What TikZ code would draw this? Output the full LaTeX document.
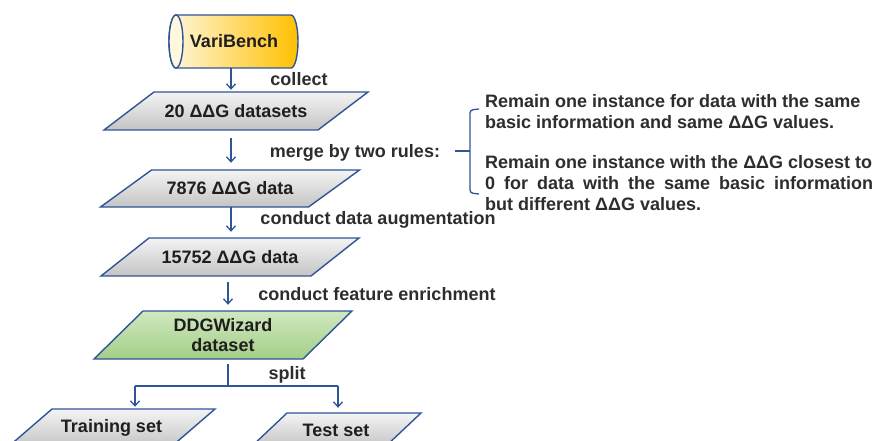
\documentclass[tikz,border=0pt]{standalone}
\usepackage{fontspec}
\setmainfont{Liberation Sans}
\usetikzlibrary{arrows.meta,calc}
\definecolor{bl}{RGB}{47,85,151}
\definecolor{txt}{RGB}{30,30,30}
\definecolor{lab}{RGB}{45,45,45}
\definecolor{gtop}{RGB}{244,244,244}
\definecolor{gbot}{RGB}{196,196,196}
\definecolor{grtop}{RGB}{208,232,192}
\definecolor{grbot}{RGB}{164,206,136}
\definecolor{ylight}{RGB}{255,247,222}
\definecolor{ydark}{RGB}{255,192,0}
\newcommand\pgram[6]{%
  \path[#1] ({#2-#4/2-#6/2},{#3+#5/2}) -- ({#2+#4/2-#6/2},{#3+#5/2})
    -- ({#2+#4/2+#6/2},{#3-#5/2}) -- ({#2-#4/2+#6/2},{#3-#5/2}) -- cycle;}
\begin{document}
\begin{tikzpicture}[x=1pt,y=-1pt,
  every node/.style={font=\fontsize{18}{20}\selectfont\bfseries, text=txt, inner sep=0pt},
  boxtext/.style={align=center},
  lbl/.style={text=lab},
  grayfill/.style={draw=bl, line width=1.4pt, top color=gtop, bottom color=gbot},
  greenfill/.style={draw=bl, line width=1.4pt, top color=grtop, bottom color=grbot},
  ln/.style={draw=bl, line width=1.5pt},
  arr/.style={ln, -{Straight Barb[length=5pt,width=9pt,line width=1.3pt]}}]
\useasboundingbox (0,0) rectangle (876,441);
\clip (0,0) rectangle (876,441);
% cylinder
\path[draw=bl, line width=1.4pt, left color=ylight, right color=ydark]
  (176,15) -- (291,15) arc[start angle=90, end angle=-90, x radius=7pt, y radius=26.5pt]
  -- (176,68) arc[start angle=270, end angle=90, x radius=7pt, y radius=26.5pt] -- cycle;
\draw[bl, line width=1.4pt, fill=ylight] (176,41.5) ellipse[x radius=7pt, y radius=26.5pt];
\node[minimum width=122pt, minimum height=53pt] (var) at (234,41.5) {VariBench};
% parallelograms
\pgram{grayfill}{236}{111}{214}{38}{50}
\node[boxtext, minimum width=214pt, minimum height=38pt] (ds20) at (236,111) {20 ΔΔG datasets};
\pgram{grayfill}{230}{188.5}{208}{37}{51}
\node[boxtext, minimum width=208pt, minimum height=37pt] (d78) at (230,188.5) {7876 ΔΔG data};
\pgram{grayfill}{230}{257}{210}{38}{48}
\node[boxtext, minimum width=210pt, minimum height=38pt] (d15) at (230,257) {15752 ΔΔG data};
\pgram{greenfill}{223}{335}{209}{48}{49}
\node[boxtext, minimum width=209pt, minimum height=48pt] (ddg) at (223,335) {DDGWizard\\dataset};
\pgram{grayfill}{111.5}{428}{163}{38}{44}
\node[boxtext, minimum width=163pt, minimum height=38pt] (train) at (111.5,428) {Training set};
\pgram{grayfill}{336}{430}{134}{34}{36}
\node[boxtext, minimum width=134pt, minimum height=34pt] (test) at (336,430) {Test set};
% connectors
\coordinate (sp) at (231,0);
\coordinate (sq) at (228,0);
\coordinate (split) at (228,386);
\coordinate (sL) at (135,386);
\coordinate (sR) at (338,386);
\draw[arr, shorten >=2pt] (sp |- var.south) -- (sp |- ds20.north);
\draw[arr, shorten <=8pt, shorten >=7pt] (sp |- ds20.south) -- (sp |- d78.north);
\draw[arr, shorten >=6pt] (sp |- d78.south) -- (sp |- d15.north);
\draw[arr, shorten <=6pt, shorten >=6pt] (sq |- d15.south) -- (sq |- ddg.north);
\draw[ln, shorten <=5pt] (sq |- ddg.south) -- (split);
\draw[ln] (sL) -- (sR);
\draw[arr, shorten >=2pt] (sL) -- (sL |- train.north);
\draw[arr, shorten >=5pt] (sR) -- (sR |- test.north);
% labels
\node[lbl] (lcollect) at (299,79) {collect};
\node[lbl] (lmerge) at (355,153) {merge by two rules:};
\node[lbl] (laug) at (378,220) {conduct data augmentation};
\node[lbl] (lfeat) at (377,294) {conduct feature enrichment};
\node[lbl] (lsplit) at (287,375) {split};
% brace
\coordinate (bm) at (470,151);
\draw[ln, line width=1.3pt, rounded corners=3pt] (479,109) -- (470,110) -- (470,193) -- (479,194);
\draw[ln, line width=1.3pt] (455,151) -- (bm);
% rules
\node[lbl, anchor=base west, align=left, font=\fontsize{18}{21}\selectfont\bfseries] (r1) at (485,129)
  {Remain one instance for data with the same\\basic information and same ΔΔG values.};
\node[lbl, anchor=base west, align=left, font=\fontsize{18}{21}\selectfont\bfseries] (r2) at (485,211)
  {Remain one instance with the ΔΔG closest to\\\makebox[388pt][s]{0 for data with the same basic information}\\but different ΔΔG values.};
\end{tikzpicture}
\end{document}
